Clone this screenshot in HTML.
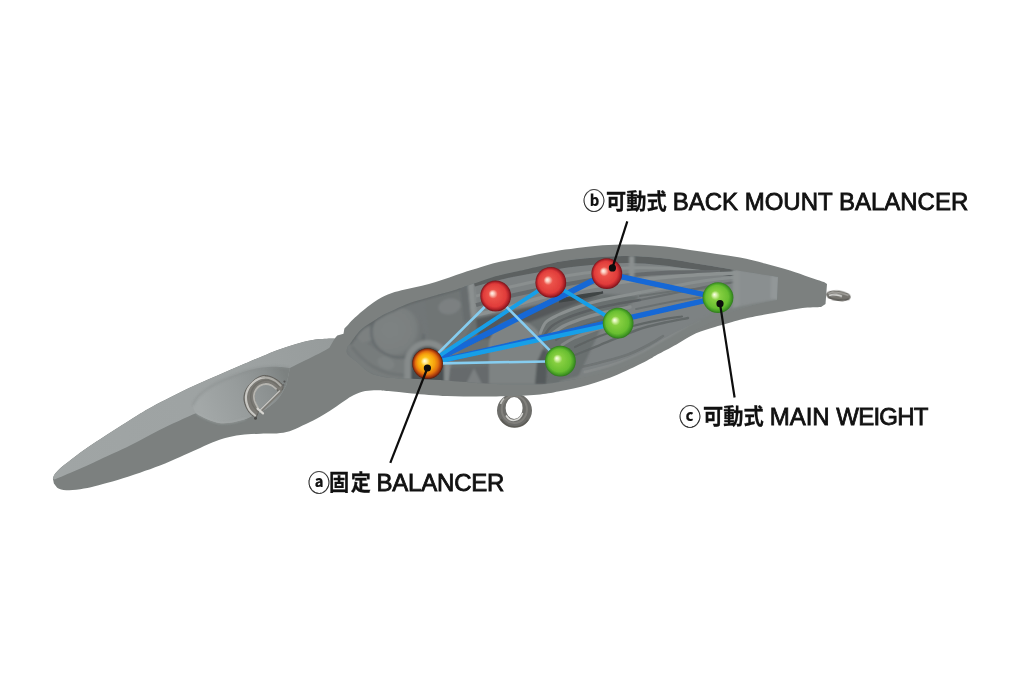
<!DOCTYPE html>
<html lang="ja"><head><meta charset="utf-8"><title>BALANCER</title>
<style>
html,body{margin:0;padding:0;background:#fff;}
body{width:1024px;height:683px;overflow:hidden;position:relative;font-family:"Liberation Sans","Noto Sans CJK JP",sans-serif;}
svg{position:absolute;left:0;top:0;display:block}
.lbl{position:absolute;left:0;top:0;white-space:nowrap;color:#111;}
.lbl span{position:absolute;display:block;line-height:30px;height:30px;white-space:pre;}
.lbl .e{font-family:"Liberation Sans",sans-serif;font-size:24px;letter-spacing:0px;-webkit-text-stroke:0.8px #111;will-change:transform;}
.lbl .j{font-family:"Noto Sans CJK JP",sans-serif;font-weight:700;font-size:21px;letter-spacing:0;-webkit-text-stroke:0.25px #111;transform-origin:0 50%;transform:scale(0.962,1.04);}
.lbl .c{font-family:"Noto Sans CJK JP",sans-serif;font-weight:700;font-size:22.7px;-webkit-text-stroke:0.15px #111;transform-origin:0 50%;transform:scaleX(0.97);}
</style></head><body>
<svg width="1024" height="683" viewBox="0 0 1024 683">
<defs>
<radialGradient id="gr" cx="0.5" cy="0.5" r="0.5" fx="0.38" fy="0.41">
<stop offset="0" stop-color="#fff4ee"/><stop offset="0.12" stop-color="#fbc8ba"/><stop offset="0.3" stop-color="#ec5249"/><stop offset="0.74" stop-color="#e03c3a"/><stop offset="0.88" stop-color="#b4242a"/><stop offset="1" stop-color="#74141a"/>
</radialGradient>
<radialGradient id="gg" cx="0.5" cy="0.5" r="0.5" fx="0.38" fy="0.40">
<stop offset="0" stop-color="#fcffee"/><stop offset="0.12" stop-color="#d8f2aa"/><stop offset="0.3" stop-color="#86cf40"/><stop offset="0.74" stop-color="#68be30"/><stop offset="0.88" stop-color="#48a026"/><stop offset="1" stop-color="#2e7a1c"/>
</radialGradient>
<radialGradient id="go" cx="0.5" cy="0.5" r="0.5" fx="0.40" fy="0.41">
<stop offset="0" stop-color="#fffde6"/><stop offset="0.14" stop-color="#ffe98c"/><stop offset="0.3" stop-color="#fcc01a"/><stop offset="0.55" stop-color="#f6a20e"/><stop offset="0.74" stop-color="#e4720c"/><stop offset="0.9" stop-color="#a6380a"/><stop offset="1" stop-color="#561a08"/>
</radialGradient>
<linearGradient id="gdimple" gradientUnits="userSpaceOnUse" x1="203" y1="414" x2="287" y2="378"><stop offset="0" stop-color="#a3a8a8"/><stop offset="0.45" stop-color="#979c9c"/><stop offset="0.8" stop-color="#8a8f8f"/><stop offset="1" stop-color="#7c8180"/></linearGradient>
<linearGradient id="gliptop" gradientUnits="userSpaceOnUse" x1="60" y1="470" x2="335" y2="340"><stop offset="0" stop-color="#a0a5a5"/><stop offset="0.7" stop-color="#9da2a2"/><stop offset="1" stop-color="#969b9b"/></linearGradient>
<radialGradient id="gblob" cx="0.4" cy="0.4" r="0.65"><stop offset="0" stop-color="#7e8383"/><stop offset="0.75" stop-color="#7a7f7f"/><stop offset="1" stop-color="#6b7071"/></radialGradient>
<clipPath id="cavclip"><path d="M350.0 344.0C351.0 342.6 353.9 338.1 356.0 335.5C358.1 332.9 359.4 330.8 362.4 328.4C365.4 325.9 370.6 323.0 374.0 320.8C377.4 318.6 379.6 316.9 383.0 315.0C386.4 313.1 390.1 311.7 394.6 309.7C399.1 307.7 403.6 305.3 410.0 303.1C416.4 300.9 425.2 298.5 432.7 296.3C440.2 294.1 449.4 291.7 455.0 290.0C460.6 288.3 462.2 287.4 466.4 286.0C470.6 284.6 475.6 283.0 480.0 281.5C484.4 280.0 488.5 278.4 492.7 277.2C496.9 275.9 499.1 275.4 505.0 274.0C510.9 272.6 521.3 270.4 528.0 268.9C534.7 267.4 538.8 266.4 545.0 265.0C551.2 263.6 557.5 261.6 565.0 260.4C572.5 259.1 581.7 258.2 590.0 257.5C598.3 256.8 606.7 256.4 615.0 256.2C623.3 256.0 631.7 255.8 640.0 256.2C648.3 256.6 654.6 257.1 665.0 258.5C675.4 259.9 690.8 262.6 702.5 264.5C714.2 266.4 722.4 267.9 735.0 270.0C747.6 272.1 770.8 275.8 778.0 277.0L777 300C772.9 300.8 760.3 302.9 752.5 305.0C744.7 307.1 737.1 309.6 730.0 312.5C722.9 315.4 716.7 319.2 710.0 322.5C703.3 325.8 697.5 328.3 690.0 332.5C682.5 336.7 673.3 342.9 665.0 347.5C656.7 352.1 648.3 356.2 640.0 360.0C631.7 363.8 623.3 367.3 615.0 370.0C606.7 372.7 598.3 374.2 590.0 376.0C581.7 377.8 573.3 379.6 565.0 381.0C556.7 382.4 551.7 384.0 540.0 384.5C528.3 385.0 510.7 384.7 495.0 384.0C479.3 383.3 460.9 381.3 445.8 380.4C430.7 379.5 414.0 379.1 404.5 378.6C395.0 378.2 393.5 378.3 388.7 377.7C383.9 377.1 379.1 376.2 375.5 375.0C371.9 373.8 369.7 372.7 366.8 370.7C363.9 368.7 361.2 365.6 358.0 362.8C354.8 360.0 349.2 356.6 347.4 354.0C345.6 351.4 347.4 348.2 347.4 347.0Z"/></clipPath>
<clipPath id="bodyclip"><path d="M52.9 478.6C53.2 477.9 53.2 476.1 54.6 474.2C56.0 472.3 58.5 469.7 61.0 467.5C63.5 465.3 65.5 463.9 69.3 461.0C73.1 458.1 78.8 453.6 83.9 450.0C89.0 446.4 94.8 442.7 100.0 439.3C105.2 435.9 110.0 432.7 115.0 429.5C120.0 426.3 123.8 423.8 130.0 420.0C136.2 416.2 142.5 411.9 152.5 406.5C162.5 401.1 177.5 393.4 190.0 387.5C202.5 381.6 215.8 376.1 227.5 371.0C239.2 365.9 251.7 360.7 260.0 357.2C268.4 353.7 271.8 352.2 277.6 350.0C283.5 347.8 289.2 345.9 295.1 344.2C301.0 342.5 306.8 340.9 312.7 340.0C318.6 339.1 326.6 338.8 330.3 338.6C334.0 338.4 334.0 338.6 334.7 338.6L337.3 335.5L343.5 333.8L344.4 328.5L347.9 325C348.9 324.0 350.5 321.8 353.7 318.8C356.9 315.8 362.8 310.5 367.3 307.0C371.9 303.5 376.4 300.3 381.0 297.8C385.6 295.3 390.1 293.6 394.7 292.1C399.3 290.6 403.8 289.8 408.4 288.7C412.9 287.6 417.4 286.9 422.0 285.8C426.6 284.7 431.1 283.3 435.7 281.9C440.3 280.5 444.8 278.9 449.4 277.4C453.9 275.9 458.4 274.3 463.0 272.8C467.6 271.3 471.8 270.1 476.7 268.6C481.6 267.1 487.1 265.1 492.7 263.6C498.2 262.1 503.8 261.1 510.0 259.8C516.2 258.5 523.7 257.1 530.0 255.9C536.3 254.7 542.1 253.7 548.0 252.6C553.9 251.5 558.2 250.6 565.2 249.6C572.2 248.6 581.7 247.2 590.0 246.4C598.3 245.6 606.7 245.1 615.0 244.8C623.3 244.5 631.7 244.4 640.0 244.7C648.3 245.0 656.7 245.7 665.0 246.6C673.3 247.5 681.7 248.8 690.0 250.0C698.3 251.2 706.7 252.4 715.0 253.7C723.3 254.9 731.7 255.9 740.0 257.5C748.3 259.1 756.7 261.3 765.0 263.5C773.3 265.7 782.7 268.4 790.0 270.6C797.3 272.9 803.0 275.1 808.7 277.0C814.4 278.9 821.5 281.2 824.0 282.0L827 284L825.5 304L821 307C817.9 307.2 808.7 307.3 802.5 308.0C796.3 308.7 790.0 310.1 783.7 311.2C777.5 312.3 770.2 313.6 765.0 314.6C759.8 315.6 756.7 316.1 752.5 317.0C748.3 317.9 746.2 318.1 740.0 319.8C733.8 321.5 722.3 324.8 715.0 327.0C707.7 329.2 702.4 330.4 696.0 333.3C689.6 336.2 683.0 340.8 676.5 344.4C670.0 348.0 661.9 352.1 657.0 354.8C652.1 357.5 653.7 357.2 647.2 360.5C640.7 363.8 627.7 370.4 617.9 374.4C608.1 378.4 598.4 381.9 588.6 384.7C578.8 387.5 567.9 389.6 559.3 391.3C550.7 393.0 546.0 394.0 537.0 394.8C528.0 395.6 514.7 396.0 505.0 396.3C495.3 396.6 488.3 396.6 478.6 396.5C468.9 396.4 458.1 396.5 447.0 396.0C435.9 395.5 421.7 394.2 412.0 393.4C402.3 392.6 394.5 391.6 388.6 391.1C382.8 390.6 380.8 390.2 376.9 390.2C373.0 390.2 369.1 390.3 365.2 391.1C361.3 391.9 356.8 393.6 353.4 395.2C350.0 396.8 348.4 398.1 345.0 400.4C341.6 402.6 337.7 405.7 333.0 408.7C328.3 411.7 322.1 415.6 317.0 418.4C311.9 421.2 307.1 423.5 302.5 425.6C297.9 427.8 293.9 430.0 289.6 431.3C285.3 432.6 281.5 433.0 276.7 433.4C271.9 433.8 266.0 433.5 260.6 433.7C255.2 433.9 249.9 433.9 244.5 434.5C239.1 435.1 233.7 435.9 228.3 437.2C222.9 438.5 217.6 440.4 212.2 442.5C206.8 444.6 201.5 447.4 196.1 449.8C190.7 452.2 186.0 454.4 180.0 457.0C174.0 459.6 166.7 463.0 160.0 465.6C153.3 468.2 147.1 470.3 140.0 472.7C132.9 475.1 124.5 477.9 117.6 480.0C110.7 482.1 104.2 483.8 98.6 485.2C93.0 486.6 88.8 487.8 83.9 488.6C79.0 489.5 73.5 490.3 69.3 490.3C65.1 490.3 61.6 489.9 59.0 488.8C56.4 487.7 54.8 484.4 53.9 483.5L52.9 478.6Z"/></clipPath>
<filter id="b1" x="-20%" y="-20%" width="140%" height="140%"><feGaussianBlur stdDeviation="1.2"/></filter>
<filter id="b2" x="-20%" y="-20%" width="140%" height="140%"><feGaussianBlur stdDeviation="2.5"/></filter>
<filter id="b04" x="-5%" y="-5%" width="110%" height="110%"><feGaussianBlur stdDeviation="0.45"/></filter>
<filter id="b05" x="-20%" y="-20%" width="140%" height="140%"><feGaussianBlur stdDeviation="0.6"/></filter>
</defs>
<!-- body -->
<g filter="url(#b05)"><path fill-rule="evenodd" fill="#6d6d6a" d="M497 410.5a17.5 17 0 1 0 35 0a17.5 17 0 1 0 -35 0ZM505.6 408a8.5 11 0 1 0 17 0a8.5 11 0 1 0 -17 0Z"/><ellipse cx="514.3" cy="409.2" rx="12.6" ry="13.8" fill="none" stroke="#8a8984" stroke-width="2" opacity="0.7"/><path d="M506 415.5A9.6 12 0 0 0 522.6 413" fill="none" stroke="#e4e4e1" stroke-width="1.5" opacity="0.9"/><path d="M500.6 404A15 15 0 0 1 504 398.5" fill="none" stroke="#d8d8d5" stroke-width="1.6" opacity="0.8"/><path d="M501 419A16 16 0 0 0 528 420" fill="none" stroke="#55544f" stroke-width="1.6" opacity="0.7"/></g>
<g filter="url(#b05)" transform="rotate(7 838.4 295.8)"><ellipse cx="838.4" cy="295.8" rx="12.4" ry="5.2" fill="#74736e"/><path d="M828 294.6C833 292.4 843 292.2 848.5 294.4" fill="none" stroke="#a4a39e" stroke-width="1.5"/><path d="M829 296.6C833 295 839 295 842 296" fill="none" stroke="#d4d4d1" stroke-width="1.6"/><path d="M828 298.4C834 300.6 843 300.6 849.5 297.6" fill="none" stroke="#5b5a56" stroke-width="1.4"/></g>
<g filter="url(#b05)">
<path d="M52.9 478.6C53.2 477.9 53.2 476.1 54.6 474.2C56.0 472.3 58.5 469.7 61.0 467.5C63.5 465.3 65.5 463.9 69.3 461.0C73.1 458.1 78.8 453.6 83.9 450.0C89.0 446.4 94.8 442.7 100.0 439.3C105.2 435.9 110.0 432.7 115.0 429.5C120.0 426.3 123.8 423.8 130.0 420.0C136.2 416.2 142.5 411.9 152.5 406.5C162.5 401.1 177.5 393.4 190.0 387.5C202.5 381.6 215.8 376.1 227.5 371.0C239.2 365.9 251.7 360.7 260.0 357.2C268.4 353.7 271.8 352.2 277.6 350.0C283.5 347.8 289.2 345.9 295.1 344.2C301.0 342.5 306.8 340.9 312.7 340.0C318.6 339.1 326.6 338.8 330.3 338.6C334.0 338.4 334.0 338.6 334.7 338.6L337.3 335.5L343.5 333.8L344.4 328.5L347.9 325C348.9 324.0 350.5 321.8 353.7 318.8C356.9 315.8 362.8 310.5 367.3 307.0C371.9 303.5 376.4 300.3 381.0 297.8C385.6 295.3 390.1 293.6 394.7 292.1C399.3 290.6 403.8 289.8 408.4 288.7C412.9 287.6 417.4 286.9 422.0 285.8C426.6 284.7 431.1 283.3 435.7 281.9C440.3 280.5 444.8 278.9 449.4 277.4C453.9 275.9 458.4 274.3 463.0 272.8C467.6 271.3 471.8 270.1 476.7 268.6C481.6 267.1 487.1 265.1 492.7 263.6C498.2 262.1 503.8 261.1 510.0 259.8C516.2 258.5 523.7 257.1 530.0 255.9C536.3 254.7 542.1 253.7 548.0 252.6C553.9 251.5 558.2 250.6 565.2 249.6C572.2 248.6 581.7 247.2 590.0 246.4C598.3 245.6 606.7 245.1 615.0 244.8C623.3 244.5 631.7 244.4 640.0 244.7C648.3 245.0 656.7 245.7 665.0 246.6C673.3 247.5 681.7 248.8 690.0 250.0C698.3 251.2 706.7 252.4 715.0 253.7C723.3 254.9 731.7 255.9 740.0 257.5C748.3 259.1 756.7 261.3 765.0 263.5C773.3 265.7 782.7 268.4 790.0 270.6C797.3 272.9 803.0 275.1 808.7 277.0C814.4 278.9 821.5 281.2 824.0 282.0L827 284L825.5 304L821 307C817.9 307.2 808.7 307.3 802.5 308.0C796.3 308.7 790.0 310.1 783.7 311.2C777.5 312.3 770.2 313.6 765.0 314.6C759.8 315.6 756.7 316.1 752.5 317.0C748.3 317.9 746.2 318.1 740.0 319.8C733.8 321.5 722.3 324.8 715.0 327.0C707.7 329.2 702.4 330.4 696.0 333.3C689.6 336.2 683.0 340.8 676.5 344.4C670.0 348.0 661.9 352.1 657.0 354.8C652.1 357.5 653.7 357.2 647.2 360.5C640.7 363.8 627.7 370.4 617.9 374.4C608.1 378.4 598.4 381.9 588.6 384.7C578.8 387.5 567.9 389.6 559.3 391.3C550.7 393.0 546.0 394.0 537.0 394.8C528.0 395.6 514.7 396.0 505.0 396.3C495.3 396.6 488.3 396.6 478.6 396.5C468.9 396.4 458.1 396.5 447.0 396.0C435.9 395.5 421.7 394.2 412.0 393.4C402.3 392.6 394.5 391.6 388.6 391.1C382.8 390.6 380.8 390.2 376.9 390.2C373.0 390.2 369.1 390.3 365.2 391.1C361.3 391.9 356.8 393.6 353.4 395.2C350.0 396.8 348.4 398.1 345.0 400.4C341.6 402.6 337.7 405.7 333.0 408.7C328.3 411.7 322.1 415.6 317.0 418.4C311.9 421.2 307.1 423.5 302.5 425.6C297.9 427.8 293.9 430.0 289.6 431.3C285.3 432.6 281.5 433.0 276.7 433.4C271.9 433.8 266.0 433.5 260.6 433.7C255.2 433.9 249.9 433.9 244.5 434.5C239.1 435.1 233.7 435.9 228.3 437.2C222.9 438.5 217.6 440.4 212.2 442.5C206.8 444.6 201.5 447.4 196.1 449.8C190.7 452.2 186.0 454.4 180.0 457.0C174.0 459.6 166.7 463.0 160.0 465.6C153.3 468.2 147.1 470.3 140.0 472.7C132.9 475.1 124.5 477.9 117.6 480.0C110.7 482.1 104.2 483.8 98.6 485.2C93.0 486.6 88.8 487.8 83.9 488.6C79.0 489.5 73.5 490.3 69.3 490.3C65.1 490.3 61.6 489.9 59.0 488.8C56.4 487.7 54.8 484.4 53.9 483.5L52.9 478.6Z" fill="#7b807f"/>
<g clip-path="url(#bodyclip)">

<path d="M52.9 478.6C53.2 477.9 53.2 476.1 54.6 474.2C56.0 472.3 58.5 469.7 61.0 467.5C63.5 465.3 65.5 463.9 69.3 461.0C73.1 458.1 78.8 453.6 83.9 450.0C89.0 446.4 94.8 442.7 100.0 439.3C105.2 435.9 110.0 432.7 115.0 429.5C120.0 426.3 123.8 423.8 130.0 420.0C136.2 416.2 142.5 411.9 152.5 406.5C162.5 401.1 177.5 393.4 190.0 387.5C202.5 381.6 215.8 376.1 227.5 371.0C239.2 365.9 251.7 360.7 260.0 357.2C268.4 353.7 271.8 352.2 277.6 350.0C283.5 347.8 289.2 345.9 295.1 344.2C301.0 342.5 306.8 340.9 312.7 340.0C318.6 339.1 326.6 338.8 330.3 338.6C334.0 338.4 334.0 338.6 334.7 338.6L329.4 347.8C328.1 348.5 325.8 350.0 321.5 352.2C317.2 354.4 309.2 358.4 303.9 361.0C298.6 363.6 292.2 366.8 289.9 368.0L286.4 385C285.1 387.2 281.8 394.3 278.4 398.3C275.0 402.3 270.4 406.1 266.0 409.0C261.6 411.9 255.3 414.4 252.0 416.0C248.7 417.6 249.4 417.7 246.0 418.8C242.6 419.9 236.0 421.8 231.5 422.5C227.0 423.2 223.1 423.6 219.0 423.0C214.9 422.4 210.6 420.6 206.8 419.0C203.0 417.4 198.0 414.2 196.2 413.3L192.7 414.4C187.2 416.9 170.4 424.5 160.0 429.7C149.6 434.9 140.0 440.5 130.0 445.5C120.0 450.5 107.5 456.0 100.0 459.5C92.5 463.0 90.0 464.2 85.0 466.5C80.0 468.8 75.1 470.8 70.0 473.0C64.9 475.2 57.2 478.4 54.6 479.5Z" fill="url(#gliptop)"/>
<path d="M192.7 405.5C193.6 404.1 195.7 399.7 198.0 397.0C200.3 394.3 203.4 391.8 206.6 389.5C209.8 387.2 213.3 384.9 217.0 383.0C220.7 381.1 223.0 380.0 228.6 377.8C234.2 375.6 243.3 371.6 250.6 369.8C257.9 368.0 265.9 367.1 272.5 366.8C279.1 366.5 287.0 367.8 289.9 368.0L286.4 385C285.1 387.2 281.8 394.3 278.4 398.3C275.0 402.3 270.4 406.1 266.0 409.0C261.6 411.9 255.3 414.4 252.0 416.0C248.7 417.6 249.4 417.7 246.0 418.8C242.6 419.9 236.0 421.8 231.5 422.5C227.0 423.2 223.1 423.6 219.0 423.0C214.9 422.4 210.6 420.6 206.8 419.0C203.0 417.4 198.5 415.6 196.2 413.3C193.8 411.1 193.3 406.8 192.7 405.5Z" fill="url(#gdimple)"/>
<path d="M192.7 405.5C193.6 404.1 195.7 399.7 198.0 397.0C200.3 394.3 203.4 391.8 206.6 389.5C209.8 387.2 213.3 384.9 217.0 383.0C220.7 381.1 223.0 380.0 228.6 377.8C234.2 375.6 243.3 371.6 250.6 369.8C257.9 368.0 265.9 367.1 272.5 366.8C279.1 366.5 287.0 367.8 289.9 368.0" fill="none" stroke="#8a8f8f" stroke-width="2" opacity="0.55" filter="url(#b1)"/>
<path d="M196.2 413.3C198.0 414.2 203.0 417.4 206.8 419.0C210.6 420.6 214.9 422.4 219.0 423.0C223.1 423.6 227.0 423.2 231.5 422.5C236.0 421.8 243.6 419.4 246.0 418.8" fill="none" stroke="#a9aeae" stroke-width="1.6" opacity="0.6" filter="url(#b1)"/>

</g>
<path d="M350.0 344.0C351.0 342.6 353.9 338.1 356.0 335.5C358.1 332.9 359.4 330.8 362.4 328.4C365.4 325.9 370.6 323.0 374.0 320.8C377.4 318.6 379.6 316.9 383.0 315.0C386.4 313.1 390.1 311.7 394.6 309.7C399.1 307.7 403.6 305.3 410.0 303.1C416.4 300.9 425.2 298.5 432.7 296.3C440.2 294.1 449.4 291.7 455.0 290.0C460.6 288.3 462.2 287.4 466.4 286.0C470.6 284.6 475.6 283.0 480.0 281.5C484.4 280.0 488.5 278.4 492.7 277.2C496.9 275.9 499.1 275.4 505.0 274.0C510.9 272.6 521.3 270.4 528.0 268.9C534.7 267.4 538.8 266.4 545.0 265.0C551.2 263.6 557.5 261.6 565.0 260.4C572.5 259.1 581.7 258.2 590.0 257.5C598.3 256.8 606.7 256.4 615.0 256.2C623.3 256.0 631.7 255.8 640.0 256.2C648.3 256.6 654.6 257.1 665.0 258.5C675.4 259.9 690.8 262.6 702.5 264.5C714.2 266.4 722.4 267.9 735.0 270.0C747.6 272.1 770.8 275.8 778.0 277.0L777 300C772.9 300.8 760.3 302.9 752.5 305.0C744.7 307.1 737.1 309.6 730.0 312.5C722.9 315.4 716.7 319.2 710.0 322.5C703.3 325.8 697.5 328.3 690.0 332.5C682.5 336.7 673.3 342.9 665.0 347.5C656.7 352.1 648.3 356.2 640.0 360.0C631.7 363.8 623.3 367.3 615.0 370.0C606.7 372.7 598.3 374.2 590.0 376.0C581.7 377.8 573.3 379.6 565.0 381.0C556.7 382.4 551.7 384.0 540.0 384.5C528.3 385.0 510.7 384.7 495.0 384.0C479.3 383.3 460.9 381.3 445.8 380.4C430.7 379.5 414.0 379.1 404.5 378.6C395.0 378.2 393.5 378.3 388.7 377.7C383.9 377.1 379.1 376.2 375.5 375.0C371.9 373.8 369.7 372.7 366.8 370.7C363.9 368.7 361.2 365.6 358.0 362.8C354.8 360.0 349.2 356.6 347.4 354.0C345.6 351.4 347.4 348.2 347.4 347.0Z" fill="#777c7d"/>
<g clip-path="url(#cavclip)">
<path d="M470 250L800 250L800 400L470 400Z" fill="#7d8283"/>
<path d="M340 280L474 270L478 390L340 390Z" fill="#717677"/>
<g filter="url(#b1)">
<path d="M347.0 346.0C347.7 342.7 352.5 340.3 356.0 340.0C359.5 339.7 364.0 342.0 368.0 344.0C372.0 346.0 375.3 349.7 380.0 352.0C384.7 354.3 391.3 356.3 396.0 358.0C400.7 359.7 406.0 358.3 408.0 362.0C410.0 365.7 411.8 377.3 408.0 380.0C404.2 382.7 392.0 379.5 385.0 378.0C378.0 376.5 371.5 374.0 366.0 371.0C360.5 368.0 355.2 364.2 352.0 360.0C348.8 355.8 346.3 349.3 347.0 346.0Z" fill="#777c7c"/>
<ellipse cx="397" cy="332" rx="25.5" ry="24" fill="url(#gblob)" transform="rotate(-25 397 332)"/>
<ellipse cx="449.5" cy="306.5" rx="11.5" ry="8" fill="#7a7f80" transform="rotate(-12 449 306)"/>
<ellipse cx="365" cy="334.5" rx="9" ry="8" fill="#7b8080" transform="rotate(-35 365 334)"/>
<ellipse cx="386" cy="363" rx="9" ry="6" fill="#7d8282" transform="rotate(25 386 363)"/>
<path d="M425 300L462 289L466 330L450 345L430 340Z" fill="#6f7475"/>
<ellipse cx="449.5" cy="306.5" rx="11.5" ry="8" fill="#7b8081" transform="rotate(-12 449 306)"/>
<path d="M376.0 316.0C375.2 318.2 371.8 324.5 371.5 329.0C371.2 333.5 371.9 339.0 374.0 343.0C376.1 347.0 380.0 350.6 384.0 353.0C388.0 355.4 393.3 357.2 398.0 357.5C402.7 357.8 408.1 356.9 412.0 355.0C415.9 353.1 419.5 349.5 421.5 346.0C423.5 342.5 423.6 336.0 424.0 334.0" fill="none" stroke="#62676a" stroke-width="2.6" opacity="0.75"/>
<path d="M352.0 347.0C353.3 348.5 356.7 352.8 360.0 356.0C363.3 359.2 367.3 363.2 372.0 366.0C376.7 368.8 382.7 371.5 388.0 373.0C393.3 374.5 401.3 374.7 404.0 375.0" fill="none" stroke="#666b6c" stroke-width="2.2" opacity="0.6"/>
<path d="M350.0 344.0C351.0 342.6 353.9 338.1 356.0 335.5C358.1 332.9 359.4 330.8 362.4 328.4C365.4 325.9 370.6 323.0 374.0 320.8C377.4 318.6 379.6 316.9 383.0 315.0C386.4 313.1 390.1 311.7 394.6 309.7C399.1 307.7 403.6 305.3 410.0 303.1C416.4 300.9 425.2 298.5 432.7 296.3C440.2 294.1 448.8 291.9 455.0 290.0C461.2 288.1 467.5 285.8 470.0 285.0" fill="none" stroke="#5d6263" stroke-width="2.6" opacity="0.8"/>
<path d="M404.5 382L404.5 363A23 23 0 0 1 450.5 363L450.5 382L444 382L444 363A16.5 16.5 0 0 0 411 363L411 382Z" fill="#868b8b"/>
<path d="M411 382L411 363A16.5 16.5 0 0 1 444 363L444 382Z" fill="#4c5152"/>
<path d="M467.5 284L474 282L477 316L471 319Z" fill="#8b9090"/>
<path d="M460 286L467.5 284L471 319L464 323Z" fill="#686d6e"/>
</g>
<g filter="url(#b1)">
<path d="M474 318L560 300L604 294L640 296L600 330L575 384L449 384L452 366Z" fill="#6a6f70"/>
<path d="M476 319L512 311L560 300.5L600 295L560 310L520 326L490 338L478 340Z" fill="#54595a"/>
</g>
<g filter="url(#b05)" fill="none">
<path d="M474.0 283.0C479.2 281.7 494.0 277.4 505.0 275.0C516.0 272.6 527.5 270.6 540.0 268.5C552.5 266.4 565.5 264.0 580.0 262.5C594.5 261.0 612.8 259.6 627.0 259.5C641.2 259.4 652.5 260.6 665.0 262.0C677.5 263.4 690.3 266.1 702.0 268.0C713.7 269.9 729.5 272.6 735.0 273.5" stroke="#575c5d" stroke-width="7" opacity="0.9"/>
<path d="M476.0 296.0C481.7 294.5 498.5 289.8 510.0 287.0C521.5 284.2 532.5 281.8 545.0 279.5C557.5 277.2 571.3 274.9 585.0 273.0C598.7 271.1 612.8 268.8 627.0 268.0C641.2 267.2 657.0 267.8 670.0 268.5C683.0 269.2 699.2 271.4 705.0 272.0" stroke="#8a8f8f" stroke-width="3"/>
<path d="M476.0 305.0C481.7 303.5 498.5 298.8 510.0 296.0C521.5 293.2 532.5 291.0 545.0 288.5C557.5 286.0 571.3 283.2 585.0 281.0C598.7 278.8 612.8 276.9 627.0 275.5C641.2 274.1 654.5 273.1 670.0 272.5C685.5 271.9 711.7 272.1 720.0 272.0" stroke="#666b6c" stroke-width="4"/>
<path d="M476.0 315.0C480.8 313.8 494.3 310.8 505.0 308.0C515.7 305.2 527.5 301.2 540.0 298.0C552.5 294.8 565.5 291.8 580.0 289.0C594.5 286.2 610.3 283.7 627.0 281.5C643.7 279.3 662.0 277.4 680.0 276.0C698.0 274.6 725.8 273.5 735.0 273.0" stroke="#8c9191" stroke-width="3.4"/>
<path d="M560 299.5C575 296 590 293.5 603 292.5C590 296.5 575 299.5 560 301.5Z" stroke="#3f4445" stroke-width="2.2" fill="#3f4445"/>
</g>
<g filter="url(#b05)" fill="none" stroke-linecap="round">
<path d="M540.3 333.0C541.2 331.2 543.0 325.0 546.0 322.0C549.0 319.0 552.2 317.7 558.0 315.0C563.8 312.3 573.7 308.5 581.0 306.0C588.3 303.5 592.2 302.2 602.0 300.0C611.8 297.8 633.7 293.8 640.0 292.5" stroke="#8b9090" stroke-width="3" opacity="1"/>
<path d="M544.0 336.0C545.3 334.3 548.2 329.0 552.0 326.0C555.8 323.0 560.9 320.5 566.7 318.0C572.5 315.5 580.0 313.1 587.0 311.0C594.0 308.9 600.2 307.3 609.0 305.5C617.8 303.7 634.8 300.9 640.0 300.0" stroke="#595e5f" stroke-width="2.4" opacity="0.9"/>
<path d="M552.0 334.0C554.0 332.7 558.9 328.5 563.7 326.0C568.5 323.5 574.6 321.2 581.0 319.0C587.4 316.8 593.8 315.0 602.0 313.0C610.2 311.0 625.3 308.0 630.0 307.0" stroke="#888d8d" stroke-width="3.4" opacity="1"/>
<path d="M556.0 340.0C558.0 338.7 563.0 334.5 568.0 332.0C573.0 329.5 579.7 327.2 586.0 325.0C592.3 322.8 599.5 320.7 606.0 319.0C612.5 317.3 621.8 315.7 625.0 315.0" stroke="#5f6465" stroke-width="2.2" opacity="0.9"/>
<path d="M562.0 345.0C564.0 343.8 569.0 340.3 574.0 338.0C579.0 335.7 586.0 333.1 592.0 331.0C598.0 328.9 607.0 326.4 610.0 325.5" stroke="#858a8a" stroke-width="3" opacity="0.9"/>
<path d="M640.0 292.5C646.7 291.2 668.3 287.1 680.0 285.0C691.7 282.9 700.5 281.3 710.0 280.0C719.5 278.7 732.5 277.5 737.0 277.0" stroke="#8b9090" stroke-width="3" opacity="0.9"/>
<path d="M640.0 300.0C646.7 298.7 668.3 294.3 680.0 292.0C691.7 289.7 700.7 287.7 710.0 286.0C719.3 284.3 731.7 282.7 736.0 282.0" stroke="#636869" stroke-width="2.2" opacity="0.8"/>
<path d="M575.0 347.0C579.2 345.2 590.3 339.5 600.0 336.0C609.7 332.5 623.0 328.7 633.0 326.0C643.0 323.3 651.8 321.6 660.0 320.0C668.2 318.4 678.3 317.1 682.0 316.5" stroke="#5c6162" stroke-width="2.2" opacity="0.85"/>
<path d="M575.0 355.0C579.2 353.3 589.7 349.2 600.0 345.0C610.3 340.8 626.2 333.8 637.0 330.0C647.8 326.2 656.5 324.5 665.0 322.5C673.5 320.5 684.2 318.8 688.0 318.0" stroke="#5f6465" stroke-width="2.4" opacity="0.85"/>
<path d="M577.0 368.0C580.8 367.1 591.5 364.8 600.0 362.5C608.5 360.2 619.7 357.6 628.0 354.5C636.3 351.4 644.2 347.1 650.0 344.0C655.8 340.9 660.8 337.3 663.0 336.0" stroke="#6a6f70" stroke-width="2.6" opacity="0.8"/>
<path d="M585.0 372.0C589.5 370.8 602.8 368.0 612.0 365.0C621.2 362.0 630.7 358.5 640.0 354.0C649.3 349.5 658.0 343.3 668.0 338.0C678.0 332.7 694.7 324.7 700.0 322.0" stroke="#8a8f8f" stroke-width="3" opacity="0.7"/>
<path d="M640.0 296.0C646.7 295.1 667.5 291.8 680.0 290.5C692.5 289.2 709.2 288.4 715.0 288.0" stroke="#666b6c" stroke-width="2" opacity="0.8"/>
<path d="M636.0 309.0C641.7 307.8 659.3 303.9 670.0 302.0C680.7 300.1 695.0 298.2 700.0 297.5" stroke="#676c6d" stroke-width="2" opacity="0.8"/>
</g>
<g filter="url(#b1)">
<path d="M489 384L489 350C489 332 500 320.5 515 320.5C531 320.5 543 333 543 350L543 384Z" fill="#7e8383"/>
<path d="M489.5 350C489.5 332 500 321.5 515 321.5C531 321.5 542.5 333 542.5 350" fill="none" stroke="#8a8f8f" stroke-width="1.6" opacity="0.8"/>
<path d="M535 384L537 362L543 349L547.5 352L546 384Z" fill="#555a5b"/>
<path d="M449 384L451 368L489 366L489 384Z" fill="#666b6c"/>
<path d="M466 384L474 368L482 384Z" fill="#7b8081"/>
</g>
<g filter="url(#b1)">
<path d="M739 270L779 276.5L778 300.5L739 309Z" fill="#8a8f90"/>
<path d="M771 275.5L779 276.5L778 300.5L770.5 298.5Z" fill="#929798"/>
<path d="M732.5 269.5L739.5 270.5L739.5 308L732.5 310Z" fill="#8e9393"/>
<path d="M629 256L634.5 256L634.5 277L629 278.5Z" fill="#8a8f8f"/>
</g>
<path d="M560.0 381.0C565.0 379.7 580.8 375.7 590.0 373.0C599.2 370.3 606.7 368.2 615.0 365.0C623.3 361.8 631.7 358.2 640.0 354.0C648.3 349.8 656.7 344.8 665.0 340.0C673.3 335.2 682.5 329.1 690.0 325.0C697.5 320.9 703.3 318.2 710.0 315.5C716.7 312.8 723.0 310.9 730.0 309.0C737.0 307.1 744.2 305.5 752.0 304.0C759.8 302.5 772.8 300.7 777.0 300.0L777 320L560 400Z" fill="#7c8180" filter="url(#b1)"/>
</g>
</g>
<g filter="url(#b05)" stroke-linecap="round"><path d="M256.0 418.0C255.0 417.2 251.7 415.3 250.0 413.5C248.3 411.7 247.0 409.2 246.0 407.0C245.0 404.8 244.2 402.5 244.0 400.0C243.8 397.5 244.1 394.6 245.0 392.0C245.9 389.4 247.7 386.7 249.5 384.5C251.3 382.3 253.8 380.1 256.0 378.6C258.2 377.1 260.7 376.0 263.0 375.6C265.3 375.2 267.7 375.7 270.0 376.4C272.3 377.1 274.9 378.3 277.0 379.8C279.1 381.3 281.9 383.7 282.8 385.4C283.7 387.1 282.5 389.2 282.4 390.0L278 391.5C277.6 390.8 276.7 388.7 275.5 387.5C274.3 386.3 272.8 385.1 271.0 384.4C269.2 383.7 266.9 383.2 265.0 383.4C263.1 383.6 261.2 384.5 259.6 385.6C258.0 386.7 256.5 388.3 255.6 390.0C254.7 391.7 254.4 393.8 254.4 396.0C254.4 398.2 254.7 400.8 255.5 403.0C256.4 405.2 258.8 408.4 259.5 409.5L256 418Z" fill="#7b7a75" stroke="#63625e" stroke-width="1"/><path d="M255.0 415.5C254.1 414.6 250.9 412.1 249.5 410.0C248.1 407.9 247.2 405.3 246.6 403.0C246.0 400.7 245.8 398.3 246.0 396.0C246.2 393.7 246.9 391.2 248.0 389.0C249.1 386.8 250.8 384.7 252.6 383.0C254.3 381.3 256.6 379.9 258.5 379.0C260.4 378.1 263.1 377.8 264.0 377.6" fill="none" stroke="#c9c8c4" stroke-width="2.2"/><path d="M257.5 411.5C256.7 410.4 253.7 407.4 252.5 405.0C251.3 402.6 250.7 399.5 250.6 397.0C250.5 394.5 251.1 392.1 252.0 390.0C252.9 387.9 254.3 386.1 256.0 384.6C257.7 383.1 260.0 381.7 262.0 381.0C264.0 380.3 266.0 380.0 268.0 380.2C270.0 380.4 272.2 381.3 274.0 382.4C275.8 383.5 278.2 385.9 279.0 386.6" fill="none" stroke="#6f6e69" stroke-width="1.3"/><path d="M258.0 408.0C257.4 406.8 255.3 403.2 254.6 401.0C253.9 398.8 253.8 396.9 254.0 395.0C254.2 393.1 255.0 391.2 256.0 389.6C257.0 388.0 258.3 386.5 260.0 385.6C261.7 384.7 264.1 384.0 266.0 384.0C267.9 384.0 269.9 384.6 271.6 385.4C273.3 386.2 275.3 388.2 276.0 388.8" fill="none" stroke="#b6b5b0" stroke-width="1.8"/><path d="M262.0 377.4C263.2 377.5 266.8 377.4 269.0 378.0C271.2 378.6 273.6 379.7 275.5 381.0C277.4 382.3 279.8 384.8 280.6 385.6" fill="none" stroke="#adaca7" stroke-width="2"/><path d="M280.4 391.4L261 410.6" stroke="#7d7c77" stroke-width="3" fill="none"/><path d="M279.6 390.8L260.6 409.6" stroke="#cfcecb" stroke-width="1.1" fill="none"/><path d="M257.6 408.6L263 413.4" stroke="#d6d5d1" stroke-width="2.2" fill="none"/><circle cx="255.5" cy="418.2" r="1.5" fill="#4a4a48"/><circle cx="284.5" cy="381.6" r="1.1" fill="#555"/><circle cx="283.5" cy="385" r="1" fill="#666"/></g>
<g filter="url(#b04)"><g stroke-linecap="butt">
<line x1="427.6" y1="363.6" x2="606.8" y2="273.6" stroke="#1468d6" stroke-width="5.8"/>
<line x1="606.8" y1="273.6" x2="718.0" y2="297.6" stroke="#1468d6" stroke-width="5.4"/>
<line x1="427.6" y1="363.6" x2="718.0" y2="297.6" stroke="#1468d6" stroke-width="5.2"/>
<line x1="427.6" y1="363.6" x2="550.8" y2="282.4" stroke="#189fe8" stroke-width="4.0"/>
<line x1="550.8" y1="282.4" x2="618.1" y2="323.1" stroke="#189fe8" stroke-width="4.0"/>
<line x1="427.6" y1="363.6" x2="618.1" y2="323.1" stroke="#189fe8" stroke-width="4.4"/>
<line x1="427.6" y1="363.6" x2="495.7" y2="296.0" stroke="#86cdf0" stroke-width="2.6"/>
<line x1="495.7" y1="296.0" x2="560.4" y2="361.2" stroke="#86cdf0" stroke-width="2.6"/>
<line x1="427.6" y1="363.6" x2="560.4" y2="361.2" stroke="#86cdf0" stroke-width="2.6"/>
</g>
<circle cx="495.7" cy="296.0" r="15.4" fill="url(#gr)"/>
<circle cx="550.8" cy="282.4" r="15.4" fill="url(#gr)"/>
<circle cx="606.8" cy="273.6" r="15.4" fill="url(#gr)"/>
<circle cx="560.4" cy="361.2" r="15.4" fill="url(#gg)"/>
<circle cx="618.1" cy="323.1" r="15.4" fill="url(#gg)"/>
<circle cx="718.0" cy="297.6" r="15.4" fill="url(#gg)"/>
<circle cx="427.6" cy="363.6" r="15.4" fill="url(#go)"/></g>
<g stroke="#0d0d0d" stroke-width="2.2" stroke-linecap="butt">
<line x1="427.4" y1="368" x2="390.3" y2="462.8"/>
<line x1="612.4" y1="267.9" x2="627.3" y2="221.3"/>
<line x1="720" y1="303.7" x2="734.6" y2="397.5"/>
</g>
<g fill="#0d0d0d"><circle cx="427.4" cy="368" r="3.6"/><circle cx="612.4" cy="267.9" r="3.6"/><circle cx="720" cy="303.7" r="3.6"/></g>
</svg>
<div class="lbl" id="la"><span class="c" style="left:308.2px;top:466.6px">ⓐ</span><span class="j" style="left:328.9px;top:466.3px;letter-spacing:1.5px">固定</span><span class="e" style="left:370.2px;top:468.2px;letter-spacing:-0.2px"> BALANCER</span></div>
<div class="lbl" id="lb"><span class="c" style="left:583px;top:184.8px">ⓑ</span><span class="j" style="left:605.5px;top:184.6px">可動式</span><span class="e" style="left:665.7px;top:186.6px"> BACK MOUNT BALANCER</span></div>
<div class="lbl" id="lc"><span class="c" style="left:679.3px;top:400.8px">ⓒ</span><span class="j" style="left:702.5px;top:400.4px">可動式</span><span class="e" style="left:763.3px;top:402.4px"> MAIN <i style="font-style:normal;letter-spacing:-0.8px">WEIGHT</i></span></div>
</body></html>
